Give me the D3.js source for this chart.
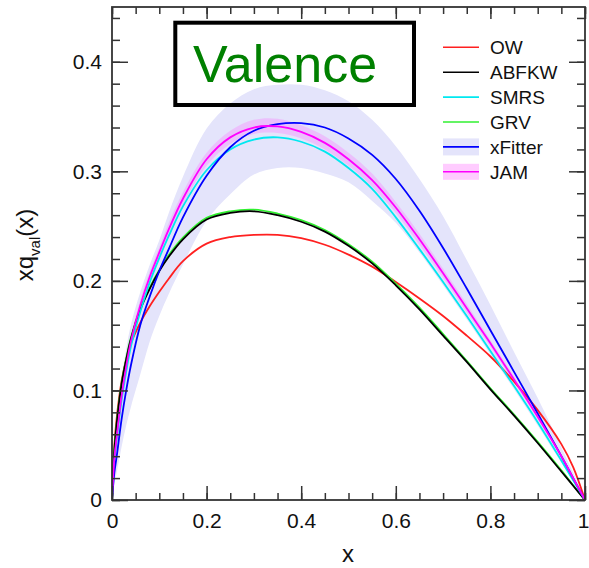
<!DOCTYPE html>
<html>
<head>
<meta charset="utf-8">
<script src="https://cdn.jsdelivr.net/npm/d3@7"></script>
<style>
  html, body { margin: 0; padding: 0; background: #fff; }
  svg { display: block; font-family: "Liberation Sans", Arial, Helvetica, sans-serif; }
</style>
</head>
<body>
<svg id="chart" width="589" height="568"></svg>
<script>
// ---------------- data ----------------
const xs = [0, 0.005, 0.01, 0.02, 0.03, 0.04, 0.06, 0.08, 0.1, 0.12, 0.15, 0.2, 0.25, 0.3, 0.35, 0.4, 0.45, 0.5, 0.55, 0.6, 0.65, 0.7, 0.75, 0.8, 0.85, 0.9, 0.95, 0.975, 1];

const owVals    = [0, 0.050, 0.075, 0.108, 0.128, 0.143, 0.162, 0.177, 0.190, 0.202, 0.218, 0.234, 0.240, 0.242, 0.242, 0.239, 0.233, 0.224, 0.213, 0.199, 0.184, 0.168, 0.150, 0.131, 0.108, 0.082, 0.051, 0.030, 0];
const abfkwVals = [0, 0.045, 0.070, 0.105, 0.128, 0.147, 0.174, 0.193, 0.209, 0.222, 0.238, 0.256, 0.262, 0.2635, 0.260, 0.254, 0.245, 0.232, 0.216, 0.196, 0.174, 0.150, 0.126, 0.101, 0.077, 0.052, 0.026, 0.013, 0];
const grvVals   = [0, 0.046, 0.071, 0.106, 0.129, 0.148, 0.175, 0.194, 0.210, 0.2235, 0.2395, 0.2575, 0.2635, 0.265, 0.2615, 0.2555, 0.2465, 0.2335, 0.2175, 0.1975, 0.1755, 0.1515, 0.127, 0.102, 0.078, 0.053, 0.027, 0.0135, 0];
const smrsVals  = [0, 0.035, 0.055, 0.090, 0.117, 0.140, 0.172, 0.199, 0.221, 0.241, 0.268, 0.301, 0.320, 0.329, 0.331, 0.327, 0.318, 0.303, 0.284, 0.258, 0.229, 0.199, 0.168, 0.136, 0.104, 0.071, 0.036, 0.018, 0];
const xfitVals  = [0, 0.025, 0.040, 0.073, 0.100, 0.123, 0.160, 0.186, 0.209, 0.229, 0.258, 0.296, 0.322, 0.337, 0.343, 0.344, 0.340, 0.330, 0.315, 0.293, 0.264, 0.230, 0.193, 0.155, 0.117, 0.079, 0.040, 0.020, 0];
const xfitLow   = [0, 0.015, 0.025, 0.048, 0.068, 0.085, 0.115, 0.145, 0.168, 0.188, 0.215, 0.255, 0.279, 0.297, 0.303, 0.303, 0.298, 0.290, 0.273, 0.253, 0.226, 0.196, 0.165, 0.133, 0.101, 0.068, 0.034, 0.017, 0];
const xfitHigh  = [0, 0.050, 0.072, 0.110, 0.138, 0.160, 0.190, 0.215, 0.237, 0.262, 0.295, 0.339, 0.362, 0.375, 0.379, 0.379, 0.374, 0.364, 0.347, 0.323, 0.293, 0.259, 0.219, 0.178, 0.135, 0.093, 0.048, 0.025, 0];
const jamVals   = [0, 0.038, 0.058, 0.094, 0.122, 0.145, 0.178, 0.204, 0.226, 0.247, 0.275, 0.311, 0.331, 0.340, 0.341, 0.336, 0.326, 0.311, 0.292, 0.267, 0.238, 0.207, 0.175, 0.143, 0.110, 0.076, 0.040, 0.020, 0];
const jamLow    = [0, 0.035, 0.054, 0.089, 0.117, 0.140, 0.173, 0.199, 0.221, 0.241, 0.269, 0.305, 0.325, 0.334, 0.335, 0.330, 0.320, 0.305, 0.286, 0.262, 0.233, 0.203, 0.171, 0.140, 0.107, 0.074, 0.038, 0.019, 0];
const jamHigh   = [0, 0.041, 0.062, 0.099, 0.127, 0.150, 0.183, 0.209, 0.231, 0.253, 0.281, 0.317, 0.337, 0.347, 0.348, 0.342, 0.332, 0.317, 0.298, 0.272, 0.243, 0.211, 0.179, 0.146, 0.113, 0.078, 0.042, 0.021, 0];

const seriesNames  = ["OW", "ABFKW", "SMRS", "GRV", "xFitter", "JAM"];
const seriesColors = ["#ff2020", "#000000", "#00e8f0", "#30f030", "#0000ff", "#ff00ff"];

const xMajorTicks = [0, 0.2, 0.4, 0.6, 0.8, 1];
const xTickLabels = ["0", "0.2", "0.4", "0.6", "0.8", "1"];
const yMajorTicks = [0, 0.1, 0.2, 0.3, 0.4];
const yTickLabels = ["0", "0.1", "0.2", "0.3", "0.4"];
const xMinorTicks = d3.range(0, 1.0001, 0.05);
const yMinorTicks = d3.range(0, 0.4501, 0.02);
const titleText = "Valence";

// ---------------- layout ----------------
const svg = d3.select("#chart");
const L = 112, R = 585, T = 7, B = 500;
const x = d3.scaleLinear().domain([0, 1]).range([L, R]);
const y = d3.scaleLinear().domain([0, 0.45]).range([B, T]);

const pts = vals => xs.map((xv, i) => [xv, vals[i]]);
const curve = d3.curveCatmullRom.alpha(0.5);
const line = d3.line().x(d => x(d[0])).y(d => y(d[1])).curve(curve);
const area = d3.area().x(d => x(d[0])).y0(d => y(d[1])).y1(d => y(d[2])).curve(curve);

svg.append("clipPath").attr("id", "clip")
  .append("rect").attr("x", L).attr("y", T).attr("width", R - L).attr("height", B - T);
const plot = svg.append("g").attr("clip-path", "url(#clip)");

// bands
plot.append("path").datum(xs.map((xv, i) => [xv, xfitLow[i], xfitHigh[i]]))
  .attr("d", area).attr("fill", "#e4e4fb");
plot.append("path").datum(xs.map((xv, i) => [xv, jamLow[i], jamHigh[i]]))
  .attr("d", area).attr("fill", "#ff66ff").attr("fill-opacity", 0.28);

// lines
const drawOrder = [
  [owVals, 0], [grvVals, 3], [abfkwVals, 1], [smrsVals, 2], [xfitVals, 4], [jamVals, 5]
];
drawOrder.forEach(([vals, ci]) => {
  plot.append("path").datum(pts(vals)).attr("d", line)
    .attr("fill", "none").attr("stroke", seriesColors[ci]).attr("stroke-width", 1.8);
});

// ---------------- axes ----------------
const axisColor = "#333";
function styleAxis(g) {
  g.select(".domain").remove();
  g.selectAll("line").attr("stroke", axisColor).attr("stroke-width", 1.5);
}
// bottom
svg.append("g").attr("transform", `translate(0,${B})`)
  .call(d3.axisBottom(x).tickValues(xMinorTicks).tickSizeInner(-7).tickSizeOuter(0).tickFormat(""))
  .call(styleAxis);
const xb = svg.append("g").attr("transform", `translate(0,${B})`)
  .call(d3.axisBottom(x).tickValues(xMajorTicks).tickSizeInner(-14).tickSizeOuter(0).tickPadding(13)
    .tickFormat((d, i) => xTickLabels[i]))
  .call(styleAxis);
xb.selectAll("text").attr("font-size", 21).attr("fill", "#111")
  .attr("font-family", "Liberation Sans, Arial, sans-serif");
// keep the last label ("1") inside the window
xb.selectAll("text").filter(d => d === 1).attr("text-anchor", "end").attr("x", 589 - R);
// top
svg.append("g").attr("transform", `translate(0,${T})`)
  .call(d3.axisTop(x).tickValues(xMinorTicks).tickSizeInner(-7).tickSizeOuter(0).tickFormat(""))
  .call(styleAxis);
svg.append("g").attr("transform", `translate(0,${T})`)
  .call(d3.axisTop(x).tickValues(xMajorTicks).tickSizeInner(-12).tickSizeOuter(0).tickFormat(""))
  .call(styleAxis);
// left
svg.append("g").attr("transform", `translate(${L},0)`)
  .call(d3.axisLeft(y).tickValues(yMinorTicks).tickSizeInner(-8).tickSizeOuter(0).tickFormat(""))
  .call(styleAxis);
const yl = svg.append("g").attr("transform", `translate(${L},0)`)
  .call(d3.axisLeft(y).tickValues(yMajorTicks).tickSizeInner(-16).tickSizeOuter(0).tickPadding(10)
    .tickFormat((d, i) => yTickLabels[i]))
  .call(styleAxis);
yl.selectAll("text").attr("font-size", 21).attr("fill", "#111")
  .attr("font-family", "Liberation Sans, Arial, sans-serif");
// right
svg.append("g").attr("transform", `translate(${R},0)`)
  .call(d3.axisRight(y).tickValues(yMinorTicks).tickSizeInner(-8).tickSizeOuter(0).tickFormat(""))
  .call(styleAxis);
svg.append("g").attr("transform", `translate(${R},0)`)
  .call(d3.axisRight(y).tickValues(yMajorTicks).tickSizeInner(-16).tickSizeOuter(0).tickFormat(""))
  .call(styleAxis);

// frame
svg.append("rect").attr("x", L).attr("y", T).attr("width", R - L).attr("height", B - T)
  .attr("fill", "none").attr("stroke", axisColor).attr("stroke-width", 1.8);

// axis titles
svg.append("text").attr("x", 348).attr("y", 562).attr("text-anchor", "middle")
  .attr("font-size", 24).attr("fill", "#111").text("x");
const yt = svg.append("text")
  .attr("transform", "translate(33,245) rotate(-90)")
  .attr("text-anchor", "middle").attr("font-size", 24).attr("fill", "#111");
yt.append("tspan").text("xq");
yt.append("tspan").attr("font-size", 15).attr("dy", 7).text("val");
yt.append("tspan").attr("dy", -7).text("(x)");

// title box
svg.append("rect").attr("x", 175.3).attr("y", 22.7).attr("width", 238.7).attr("height", 82.3)
  .attr("fill", "none").attr("stroke", "#000").attr("stroke-width", 4);
svg.append("text").attr("x", 193).attr("y", 82).attr("font-size", 52).attr("fill", "#008000")
  .text(titleText);

// legend
const legY0 = 47.3, legDy = 24.9, legX1 = 443, legX2 = 479, legTx = 490;
const lg = svg.append("g");
seriesNames.forEach((name, i) => {
  const yy = legY0 + i * legDy;
  if (name === "xFitter") {
    lg.append("rect").attr("x", legX1).attr("y", yy - 8.5).attr("width", legX2 - legX1).attr("height", 17)
      .attr("fill", "#e4e4fb");
  }
  if (name === "JAM") {
    lg.append("rect").attr("x", legX1).attr("y", yy - 8).attr("width", legX2 - legX1).attr("height", 16)
      .attr("fill", "#ffccff");
  }
  lg.append("line").attr("x1", legX1).attr("x2", legX2).attr("y1", yy).attr("y2", yy)
    .attr("stroke", seriesColors[i]).attr("stroke-width", 1.6);
  lg.append("text").attr("x", legTx).attr("y", yy + 7).attr("font-size", 19).attr("fill", "#111")
    .text(name);
});
</script>
</body>
</html>
